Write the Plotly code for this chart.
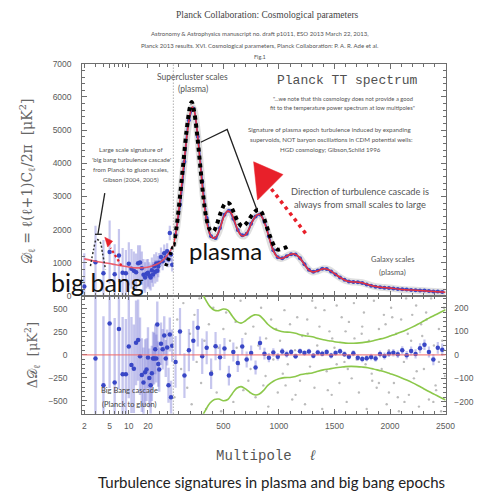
import plotly.graph_objects as go
import math

W, H = 483, 499

# ---------------- data ----------------
# top panel, low multipoles (log part)
low_l = [2, 3, 4, 5, 6, 7, 8, 9, 10, 11, 12, 13, 14, 15, 16, 17, 18, 19, 20, 21, 22, 23, 24, 25,
         26, 27, 28, 29, 30, 32, 34, 36, 38, 40, 42, 44, 46, 48]
low_D = [290, 1020, 690, 1330, 660, 1220, 700, 690, 970, 820, 760, 720, 990, 1010, 840, 640, 560, 670,
         700, 620, 560, 780, 650, 900, 730, 980, 760, 890, 1000, 1180, 1050, 1290, 1160, 1350, 1100,
         1900, 1250, 940]
low_err = [1000, 1100, 1000, 950, 900, 800, 750, 700, 650, 600, 580, 560, 540, 520, 500, 480, 460, 440,
           420, 400, 390, 380, 370, 360, 350, 340, 330, 320, 300, 280, 270, 260, 250, 240, 230, 220,
           210, 200]

# best-fit model (red)
model_low_l = [2, 3, 4, 5, 6, 8, 10, 13, 17, 22, 27, 33, 40, 50]
model_low_D = [1120, 1050, 1010, 980, 950, 905, 875, 850, 855, 890, 950, 1050, 1220, 1520]
model_hi_l = [50, 75, 100, 125, 150, 175, 200, 220, 240, 260, 280, 300, 330, 360, 390, 420, 450, 480,
              510, 540, 570, 600, 630, 660, 690, 720, 760, 800, 830, 860, 900, 940, 980, 1020, 1060,
              1100, 1140, 1180, 1220, 1260, 1300, 1350, 1400, 1450, 1500, 1550, 1600, 1650, 1700,
              1750, 1800, 1850, 1900, 1950, 2000, 2100, 2200, 2300, 2400, 2500]
model_hi_D = [1520, 1950, 2600, 3350, 4150, 4900, 5480, 5700, 5560, 5100, 4450, 3700, 2700, 2080, 1800,
              1740, 1870, 2150, 2430, 2560, 2500, 2260, 1990, 1830, 1820, 1950, 2240, 2440, 2460, 2300,
              1900, 1450, 1200, 1130, 1180, 1250, 1270, 1180, 1000, 820, 730, 760, 820, 790, 680, 560,
              470, 430, 420, 400, 350, 300, 270, 255, 240, 200, 180, 160, 135, 115]

# binned high-l data (blue)
hi_l = [70, 110, 150, 190, 230, 270, 310, 350, 390, 430, 470, 510, 550, 590, 630, 670, 710, 750, 790,
        830, 870, 910, 950, 990, 1030, 1070, 1110, 1150, 1190, 1230, 1270, 1310, 1350, 1390, 1430,
        1470, 1510, 1550, 1590, 1630, 1670, 1710, 1750, 1790, 1830, 1870, 1910, 1950, 1990, 2030,
        2070, 2110, 2150, 2190, 2230, 2270, 2310, 2350, 2390, 2430, 2470]
hi_D = [1850, 2750, 4050, 5300, 5650, 4800, 3450, 2350, 1800, 1750, 2050, 2450, 2570, 2330, 1990, 1830,
        1880, 2180, 2400, 2460, 2240, 1800, 1380, 1170, 1140, 1200, 1260, 1250, 1140, 960, 790, 730,
        770, 820, 815, 740, 650, 560, 490, 440, 425, 415, 390, 350, 310, 280, 265, 250, 240, 230, 215,
        205, 195, 185, 175, 170, 165, 150, 140, 135, 125]
hi_res = [-30, 99, -88, 20, 60, 115, -6, 30, -80, 37, -10, 27, -88, 12, -35, 36, -20, 8, -54, 50, 5, -12,
          10, -8, 14, 3, 12, -6, 15, 8, 14, -4, 10, 5, 12, -3, 8, 15, 3, -8, 7, -12, -18, -14, -9, -15,
          4, -5, 6, 9, 3, 20, -2, 16, 4, 28, 43, 12, -20, 30, 22]
hi_res_err = [110, 100, 95, 90, 85, 80, 75, 70, 65, 60, 55, 45, 42, 40, 38, 36, 34, 32, 30, 28, 25, 20,
              18, 16, 15, 14, 13, 12, 12, 12, 12, 12, 12, 12, 12, 12, 12, 12, 12, 12, 13, 13, 13, 13,
              14, 14, 14, 15, 15, 16, 16, 17, 18, 19, 20, 21, 22, 23, 24, 25, 26]

# black dotted "turbulence" curve
bk_l = [50, 80, 110, 140, 170, 200, 215, 235, 260, 290, 320, 350, 380, 410, 440, 480, 520, 550, 590,
        630, 670, 710, 760, 810, 840, 880, 920, 960, 990, 1030, 1070, 1100]
bk_D = [1500, 2100, 3000, 4000, 5000, 5700, 5850, 5600, 5000, 4000, 3000, 2300, 2000, 1950, 2150, 2550,
        2800, 2800, 2550, 2250, 2100, 2200, 2450, 2600, 2550, 2200, 1800, 1500, 1400, 1430, 1480, 1550]
bk_low_l = [38, 44, 50]
bk_low_D = [900, 1200, 1500]
bump_l = [2.5, 2.8, 3.1, 3.5, 3.9, 4.3]
bump_D = [900, 1400, 1700, 1650, 1250, 800]

# residuals, low multipoles (left scale)
res_low_l = [3, 4, 5, 6, 7, 8, 9, 10, 11, 12, 13, 14, 15, 16, 17, 18, 19, 20, 21, 22, 23, 24, 25, 26,
             27, 28, 29, 30, 32, 34, 36, 38, 40, 42, 44, 46, 48]
res_low = [-40, -330, 340, -300, 280, -210, -210, 90, -110, -150, 130, 160, -15, -220, -300, -190, -160,
           -30, -250, -330, -200, -40, -40, 60, -40, 330, -100, -160, 120, 60, 210, -40, 80, -330, 220,
           -460, 100]
res_low_err = [800, 750, 700, 700, 650, 620, 600, 560, 520, 480, 460, 440, 420, 400, 380, 360, 340, 330,
               320, 310, 300, 290, 280, 270, 260, 250, 245, 240, 230, 220, 210, 200, 195, 190, 185,
               180, 175]

# unbinned residual scatter (grey, right scale)
grey_l = [60, 85, 120, 140, 175, 200, 215, 240, 260, 285,
          300, 330, 345, 370, 395, 410, 440, 455, 480, 500,
          525, 545, 560, 590, 610, 640, 655, 680, 700, 725,
          745, 770, 790, 815, 840, 860, 885, 905, 930, 950,
          975, 990, 1010, 1035, 1050, 1080, 1100, 1120, 1145, 1165,
          1190, 1210, 1235, 1255, 1280, 1300, 1320, 1345, 1365, 1390,
          1410, 1430, 1455, 1475, 1500, 1520, 1545, 1565, 1590, 1610,
          1630, 1655, 1675, 1700, 1720, 1745, 1765, 1790, 1810, 1835,
          1855, 1880, 1900, 1925, 1945, 1970, 1990, 2010, 2035, 2055,
          2080, 2100, 2125, 2145, 2170, 2190, 2215, 2235, 2260, 2280,
          2305, 2325, 2350, 2370, 2395, 2415, 2440, 2460, 2485, 2495,
          1520, 1680, 1840, 1960, 2070, 2160, 2240, 2330, 2410, 2470,
          620, 880, 1060, 1260, 1440, 1600, 1780, 1990, 2200, 2390,
          1150, 1330, 1480, 1620, 1750, 1900, 2020, 2130, 2290, 2440]
grey_r = [-180, 150, -60, 220, -140, 90, -210, 170, -30, 240,
          -120, 60, -230, 130, -70, 200, -160, 30, -240, 110,
          180, -90, 60, -200, 140, -40, 230, -150, 90, -110,
          -60, 120, -180, 40, 200, -130, 70, -220, 150, -20,
          110, -160, 60, -80, 190, -40, 130, -190, 20, 160,
          -110, 80, -210, 150, -50, 230, -140, 40, 120, -230,
          190, -70, 100, -170, 30, 210, -120, 160, -30, -200,
          140, -100, 220, -20, -160, 90, 180, -230, 60, -80,
          230, -140, 110, -60, 170, -210, 20, 200, -120, 90,
          -240, 150, -30, 240, -170, 60, -100, 210, -220, 130,
          -60, 180, -190, 240, 40, -150, 110, -240, 200, -90,
          -40, 70, -110, 130, -180, 90, -70, 150, -130, 60,
          30, -90, -130, 90, -150, 100, -40, -160, 170, -200,
          -170, 200, 70, -60, 120, -120, 160, -200, 80, -30]

# green error envelope (right scale)
green_l = [300, 340, 380, 420, 460, 500, 540, 580, 620, 660, 700, 740, 780, 820, 860, 900, 950, 1000,
           1050, 1100, 1150, 1200, 1250, 1300, 1350, 1400, 1450, 1500, 1550, 1600, 1650, 1700, 1750,
           1800, 1850, 1900, 1950, 2000, 2050, 2100, 2150, 2200, 2250, 2300, 2350, 2400, 2450, 2500]
green_up = [270, 235, 205, 190, 188, 195, 190, 165, 142, 135, 145, 160, 170, 168, 152, 130, 112, 102, 97,
            96, 92, 84, 80, 77, 70, 64, 60, 56, 53, 50, 49, 50, 52, 55, 60, 66, 72, 80, 88, 97, 107,
            118, 130, 143, 156, 168, 180, 192]
green_dn = [-270, -235, -205, -190, -188, -195, -190, -165, -142, -135, -145, -160, -170, -168, -152,
            -130, -112, -102, -97, -96, -92, -84, -80, -77, -70, -64, -60, -56, -53, -50, -49, -50,
            -52, -55, -60, -66, -72, -80, -88, -97, -107, -118, -130, -143, -156, -168, -180, -192]

# tick labels
top_y_ticks = [0, 1000, 2000, 3000, 4000, 5000, 6000, 7000]
low_x_ticks = [2, 5, 10, 20]
low_x_minor = [3, 4, 6, 7, 8, 9, 30, 40]
hi_x_ticks = [500, 1000, 1500, 2000, 2500]
res_left_ticks = [-500, -250, 0, 250, 500]
res_right_ticks = [-200, -100, 0, 100, 200]


# ---------------- helpers (pixel -> paper) ----------------
def px(x):
    return x / W


def py(y):
    return 1 - y / H


BLUE = '#3947c6'
ERR = 'rgba(120,120,215,0.42)'
RED = '#e8313c'
AX = '#6e6e6e'
TXT = '#555555'

fig = go.Figure()

# ---- top panel, log part ----
fig.add_trace(go.Scatter(x=low_l, y=low_D, mode='markers', xaxis='x', yaxis='y',
                         marker=dict(color=BLUE, size=4.5),
                         error_y=dict(type='data', array=low_err, color=ERR, thickness=2.2, width=0)))
fig.add_trace(go.Scatter(x=model_low_l, y=model_low_D, mode='lines', xaxis='x', yaxis='y',
                         line=dict(color='rgba(235,80,95,0.9)', width=1.6, shape='spline')))
fig.add_trace(go.Scatter(x=bk_low_l, y=bk_low_D, mode='lines', xaxis='x', yaxis='y',
                         line=dict(color='black', width=3.5, dash='3px,3px')))
fig.add_trace(go.Scatter(x=bump_l, y=bump_D, mode='lines', xaxis='x', yaxis='y',
                         line=dict(color='#333', width=1.5, dash='2px,2px', shape='spline')))

# ---- top panel, linear part ----
fig.add_trace(go.Scatter(x=model_hi_l, y=model_hi_D, mode='lines', xaxis='x2', yaxis='y2',
                         line=dict(color='rgba(150,150,150,0.3)', width=7, shape='spline')))
fig.add_trace(go.Scatter(x=hi_l, y=hi_D, mode='lines+markers', xaxis='x2', yaxis='y2',
                         line=dict(color=BLUE, width=2, shape='spline'),
                         marker=dict(color=BLUE, size=4)))
fig.add_trace(go.Scatter(x=model_hi_l, y=model_hi_D, mode='lines', xaxis='x2', yaxis='y2',
                         line=dict(color=RED, width=1.5, shape='spline')))
fig.add_trace(go.Scatter(x=bk_l, y=bk_D, mode='lines', xaxis='x2', yaxis='y2',
                         line=dict(color='black', width=4, dash='4px,4px', shape='spline')))

# ---- bottom panel, log part ----
fig.add_trace(go.Scatter(x=res_low_l, y=res_low, mode='markers', xaxis='x3', yaxis='y3',
                         marker=dict(color=BLUE, size=4.5),
                         error_y=dict(type='data', array=res_low_err, color=ERR, thickness=2.4, width=0)))

# ---- bottom panel, linear part ----
fig.add_trace(go.Scatter(x=grey_l, y=grey_r, mode='markers', xaxis='x4', yaxis='y4',
                         marker=dict(color='rgba(120,120,120,0.5)', size=2.4)))
fig.add_trace(go.Scatter(x=green_l, y=green_up, mode='lines', xaxis='x4', yaxis='y4',
                         line=dict(color='#8cc84b', width=1.6, shape='spline')))
fig.add_trace(go.Scatter(x=green_l, y=green_dn, mode='lines', xaxis='x4', yaxis='y4',
                         line=dict(color='#8cc84b', width=1.6, shape='spline')))
fig.add_trace(go.Scatter(x=hi_l, y=hi_res, mode='markers', xaxis='x4', yaxis='y4',
                         marker=dict(color=BLUE, size=4.5),
                         error_y=dict(type='data', array=hi_res_err, color=ERR, thickness=2.2, width=0)))

# ---------------- axes ----------------
XL = [px(84), px(177)]
XR = [px(177), px(455)]
YT = [py(297), py(60)]
YB = [py(417), py(297)]
tickfont = dict(family='Liberation Sans', size=8.5, color='#5a5a5a')
common = dict(showgrid=False, zeroline=False, showline=True, linecolor=AX, linewidth=1,
              ticks='inside', tickcolor=AX, tickfont=tickfont)
log_range = [math.log10(1.86), math.log10(50)]

fig.update_layout(
    width=W, height=H, margin=dict(l=0, r=0, t=0, b=0),
    paper_bgcolor='white', plot_bgcolor='white', showlegend=False,
    xaxis=dict(domain=XL, anchor='y', type='log', range=log_range,
               tickvals=low_x_ticks, ticklen=4,
               minor=dict(ticks='inside', tickvals=low_x_minor, ticklen=3, tickcolor=AX),
               showticklabels=False, mirror='ticks', **common),
    xaxis2=dict(domain=XR, anchor='y2', range=[50, 2500], tickvals=hi_x_ticks, ticklen=5,
                minor=dict(ticks='inside', dtick=100, ticklen=3, tickcolor=AX),
                showticklabels=False, mirror='ticks', **common),
    yaxis=dict(domain=YT, anchor='x', range=[0, 7000], tickvals=top_y_ticks, ticklen=5,
               minor=dict(ticks='inside', dtick=200, ticklen=3, tickcolor=AX),
               ticklabelstandoff=8, **common),
    yaxis2=dict(domain=YT, anchor='x2', side='right', range=[0, 7000], tickvals=top_y_ticks, ticklen=5,
                minor=dict(ticks='inside', dtick=200, ticklen=3, tickcolor=AX),
                showticklabels=False, **common),
    xaxis3=dict(domain=XL, anchor='y3', type='log', range=log_range,
                tickvals=low_x_ticks, ticklen=4,
                minor=dict(ticks='inside', tickvals=low_x_minor, ticklen=3, tickcolor=AX),
                ticklabelstandoff=4, mirror='ticks', **common),
    xaxis4=dict(domain=XR, anchor='y4', range=[50, 2500], tickvals=hi_x_ticks, ticklen=5,
                minor=dict(ticks='inside', dtick=100, ticklen=3, tickcolor=AX),
                ticklabelstandoff=4, mirror='ticks', **common),
    yaxis3=dict(domain=YB, anchor='x3', range=[-638, 638], tickvals=res_left_ticks, ticklen=5,
                minor=dict(ticks='inside', dtick=50, ticklen=3, tickcolor=AX),
                ticklabelstandoff=12, **common),
    yaxis4=dict(domain=YB, anchor='x4', side='right', range=[-250, 250], tickvals=res_right_ticks,
                ticklen=5, minor=dict(ticks='inside', dtick=20, ticklen=3, tickcolor=AX),
                ticklabelstandoff=6, **common),
)

# ---------------- shapes ----------------
shapes = []
# l = 50 separator (dotted)
shapes.append(dict(type='line', xref='paper', yref='paper', x0=px(177), x1=px(177), y0=py(417),
                   y1=py(60), line=dict(color='#888', width=1, dash='1px,2px')))
# zero line of residuals
shapes.append(dict(type='line', xref='paper', yref='y4', x0=px(84), x1=px(455), y0=0, y1=0,
                   line=dict(color='rgba(240,110,110,0.85)', width=1.2)))


def pline(pts, color, width, dash='solid'):
    path = 'M ' + ' L '.join(f'{px(x):.4f},{py(y):.4f}' for x, y in pts)
    return dict(type='path', xref='paper', yref='paper', path=path,
                line=dict(color=color, width=width, dash=dash))


def ptri(pts, color):
    path = 'M ' + ' L '.join(f'{px(x):.4f},{py(y):.4f}' for x, y in pts) + ' Z'
    return dict(type='path', xref='paper', yref='paper', path=path, fillcolor=color,
                line=dict(color=color, width=0.5))


# black pointer lines
shapes.append(pline([(205, 140), (232, 127), (262, 208)], '#222', 1.3))
shapes.append(pline([(107, 192), (100, 234)], '#222', 1.3))
shapes.append(pline([(97, 234), (104, 234)], '#222', 1.3))
# red dotted arrows
shapes.append(pline([(312, 233), (275, 185)], '#e8202a', 3.5, '3.5px,4px'))
shapes.append(ptri([(259, 160), (289, 173), (263, 199)], '#e8202a'))
shapes.append(pline([(124, 266), (113, 248)], '#e8202a', 2.2, '2.5px,2.5px'))
shapes.append(ptri([(107, 237), (115, 241), (110, 247)], '#e8202a'))
fig.update_layout(shapes=shapes)

# ---------------- text ----------------
ann = []


def T(text, x, y, size, color=TXT, family='Lato', angle=0, xanchor='center'):
    ann.append(dict(text=text, x=px(x), y=py(y), xref='paper', yref='paper', showarrow=False,
                    xanchor=xanchor, yanchor='middle', textangle=angle,
                    font=dict(family=family, size=size, color=color)))


T('Planck Collaboration: Cosmological parameters', 273, 10, 9.5, '#444', 'Liberation Serif')
T('Astronomy &amp; Astrophysics manuscript no. draft p1011, ESO 2013 March 22, 2013,', 265, 29, 6, '#555')
T('Planck 2013 results. XVI. Cosmological parameters, Planck Collaboration: P. A. R. Ade et al.',
  266, 41, 6, '#555')
T('Fig.1', 265, 53, 5.5, '#555')
T('Supercluster scales', 197, 73, 8.5)
T('(plasma)', 197, 86, 8.5)
T('Planck TT spectrum', 355, 77, 13, '#505050', 'Liberation Mono')
T('"...we note that this cosmology does not provide a good', 350, 95, 5.8)
T('fit to the temperature power spectrum at low multipoles"', 350, 105, 5.8)
T('Signature of plasma epoch turbulence induced by expanding', 336, 127, 6.2)
T('supervoids, NOT baryon oscillations in CDM potential wells:', 338, 137, 6.2)
T('HGD cosmology; Gibson,Schild 1996', 337, 147, 6.2)
T('Direction of turbulence cascade is', 368, 190, 9.3)
T('always from small scales to large', 368, 204, 9.3)
T('Galaxy scales', 401, 260, 7.5)
T('(plasma)', 401, 273, 7.5)
T('Large scale signature of', 134, 147, 6.2)
T("'big bang turbulence cascade'", 134, 158, 6.2)
T('from Planck to gluon scales,', 134, 168, 6.2)
T('Gibson (2004, 2005)', 134, 178, 6.2)
T('plasma', 230, 251, 24, '#111')
T('big bang', 100, 283, 25, '#111')
T('Big Bang cascade', 132, 393, 7.5, '#444')
T('(Planck to gluon)', 132, 408, 7.5, '#444')
T('𝒟<sub>ℓ</sub> = ℓ(ℓ+1)C<sub>ℓ</sub>/2π  [μK<sup>2</sup>]', 28, 180, 14, '#666', 'DejaVu Serif', -90)
T('Δ𝒟<sub>ℓ</sub>  [μK<sup>2</sup>]', 33, 357, 13, '#666', 'DejaVu Serif', -90)
T('Multipole  <i>ℓ</i>', 272, 460, 14, '#555', 'Liberation Mono')
T('Turbulence signatures in plasma and big bang epochs', 277, 487, 15, '#222')
fig.update_layout(annotations=ann)

fig.write_html('out.html', config={'displayModeBar': False},
               post_script="document.body.style.margin='0px';")
